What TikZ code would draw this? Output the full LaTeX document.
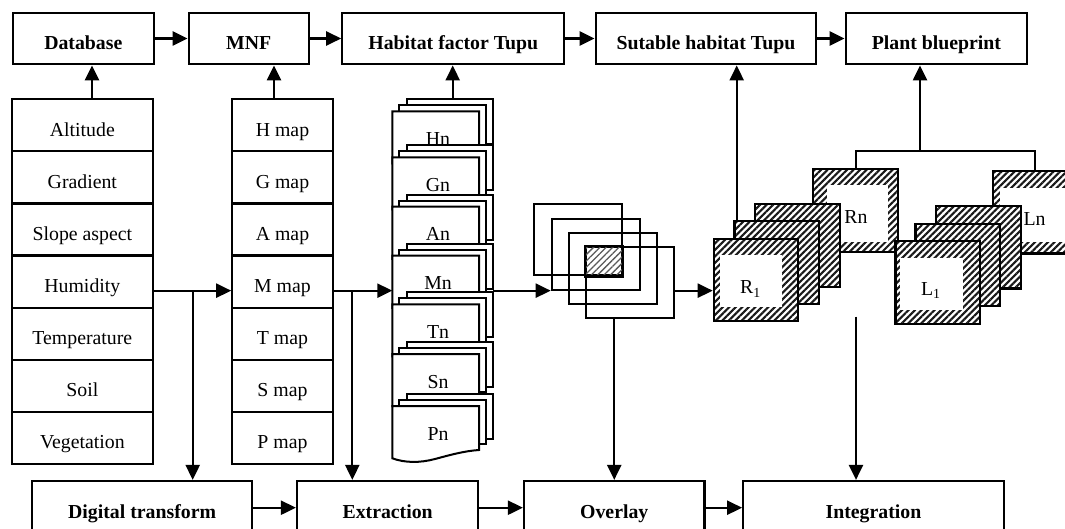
\documentclass[tikz,border=0pt]{standalone}
\usepackage{fontspec}
\setmainfont{Liberation Serif}
\usetikzlibrary{arrows.meta,patterns.meta}
\newcommand\fsz{\fontsize{19.8pt}{23pt}\selectfont}
\newcommand\mdoc[3]{%
  \draw[sheetln] (406.7,#1-12) rectangle (493.3,#1+33);
  \draw[sheetln] (399.3,#1-6) rectangle (486,#1+38);
  \draw[sheetln] (392.3,#1) -- (479,#1) -- (479,#1+44)
     .. controls (464,#1+45) and (450,#1+49) .. (435,#1+53)
     .. controls (420,#1+57) and (405,#1+57) .. (392.3,#1+52.3) -- cycle;
  \node[lbl] (#2) at (438,#1+34) {#3};
}
\begin{document}
\begin{tikzpicture}[x=1pt,y=-1pt,
  lw/.style={line width=2.2pt},
  box/.style={draw,line width=2.2pt,inner sep=0pt,text height=22pt,text depth=0pt,font=\fsz\bfseries},
  cell/.style={draw,line width=2.2pt,inner sep=0pt,minimum height=52.1pt,text height=22pt,text depth=0pt,font=\fsz},
  arr/.style={line width=2.3pt,-{Triangle[length=15pt,width=14pt]}},
  sheetln/.style={line width=2pt,fill=white},
  hsheet/.style={draw,line width=2.2pt,inner sep=0pt,minimum width=84.5pt,minimum height=82.5pt,anchor=north west,
     pattern={Lines[angle=45,distance=4.6pt,line width=2.1pt]},pattern color=black!90,preaction={fill=white}},
  sq/.style={draw,line width=2.2pt,inner sep=0pt,minimum width=88pt,minimum height=71pt,anchor=north west},
  lbl/.style={anchor=base,font=\fsz}]
\clip (0,0) rectangle (1065,529);
\fill[white] (0,0) rectangle (1065,529);

% top row
\node[box,minimum width=141.3pt,minimum height=51.6pt] (db) at (83.35,38.5) {Database};
\node[box,minimum width=120pt,minimum height=51.6pt] (mnf) at (248.7,38.5) {MNF};
\node[box,minimum width=222pt,minimum height=51.6pt] (hft) at (453.3,38.5) {Habitat factor Tupu};
\node[box,minimum width=220.5pt,minimum height=51.6pt] (sht) at (705.95,38.5) {Sutable habitat Tupu};
\node[box,minimum width=181.4pt,minimum height=51.6pt] (pb) at (936.4,38.5) {Plant blueprint};

% left column
\node[cell,minimum width=140.7pt] (alt) at (82.35,125.35) {Altitude};
\node[cell,minimum width=140.7pt] (grad) at (82.35,177.45) {Gradient};
\node[cell,minimum width=140.7pt] (slope) at (82.35,229.55) {Slope aspect};
\node[cell,minimum width=140.7pt] (hum) at (82.35,281.65) {Humidity};
\node[cell,minimum width=140.7pt] (temp) at (82.35,333.75) {Temperature};
\node[cell,minimum width=140.7pt] (soil) at (82.35,385.85) {Soil};
\node[cell,minimum width=140.7pt] (veg) at (82.35,437.95) {Vegetation};

% map column
\node[cell,minimum width=100.4pt] (hmap) at (282.5,125.35) {H map};
\node[cell,minimum width=100.4pt] (gmap) at (282.5,177.45) {G map};
\node[cell,minimum width=100.4pt] (amap) at (282.5,229.55) {A map};
\node[cell,minimum width=100.4pt] (mmap) at (282.5,281.65) {M map};
\node[cell,minimum width=100.4pt] (tmap) at (282.5,333.75) {T map};
\node[cell,minimum width=100.4pt] (smap) at (282.5,385.85) {S map};
\node[cell,minimum width=100.4pt] (pmap) at (282.5,437.95) {P map};

% bottom row
\node[box,minimum width=220.3pt,minimum height=53.4pt] (dt) at (142.15,507.7) {Digital transform};
\node[box,minimum width=181.3pt,minimum height=53.4pt] (ex) at (387.65,507.7) {Extraction};
\node[box,minimum width=180.5pt,minimum height=53.4pt] (ov) at (614.25,507.7) {Overlay};
\node[box,minimum width=260.5pt,minimum height=53.4pt] (ig) at (873.45,507.7) {Integration};

% document stacks
\mdoc{111.3}{hn}{Hn}
\mdoc{157.3}{gn}{Gn}
\mdoc{206.7}{an}{An}
\mdoc{255.7}{mn}{Mn}
\mdoc{304.3}{tn}{Tn}
\mdoc{354}{sn}{Sn}
\mdoc{406}{pn}{Pn}

% overlay squares
\node[sq] (sq1) at (532.7,203.3) {};
\node[sq] (sq2) at (550.7,217.7) {};
\node[sq] (sq3) at (567.7,231.7) {};
\node[sq] (sq4) at (585,246) {};
\fill[pattern={Lines[angle=45,distance=4.5pt,line width=1.3pt]},pattern color=black!65] (sq4.north west) rectangle (sq1.south east);
\draw[line width=2.2pt] (sq4.north west) rectangle (sq1.south east);

% R group
\node[hsheet] (rn) at (812.3,168.3) {};
\fill[white] (826.7,185) rectangle (888.3,241.7);
\node[lbl] (rnt) at (856,223.3) {Rn};
\node[hsheet] (r3) at (754,203.3) {};
\node[hsheet] (r2) at (733.3,220) {};
\node[hsheet] (r1) at (712.7,237.7) {};
\fill[white] (720,255) rectangle (781.7,306.7);
\node[lbl] (r1t) at (750.5,294) {R\textsubscript{1}};

% L group
\node[hsheet] (ln) at (991.7,170) {};
\fill[white] (1000,188) rectangle (1070,242);
\node[lbl] (lnt) at (1034.5,225.7) {Ln};
\node[hsheet] (l3) at (935,205) {};
\node[hsheet] (l2) at (914.3,222.7) {};
\node[hsheet] (l1) at (894.3,240) {};
\fill[white] (900,258.3) rectangle (963,310);
\node[lbl] (l1t) at (930.8,295) {L\textsubscript{1}};

% connectors: top row
\draw[arr] (db) -- (mnf);
\draw[arr] (mnf) -- (hft);
\draw[arr] (hft) -- (sht);
\draw[arr] (sht) -- (pb);
% up arrows
\draw[arr] ([xshift=9.65pt]alt.north) -- ([xshift=9.65pt]alt.north |- db.south);
\draw[arr] ([xshift=-8.5pt]hmap.north) -- ([xshift=-8.5pt]hmap.north |- mnf.south);
\coordinate (hnTop) at (452.7,99.3);
\draw[arr] (hnTop) -- (hnTop |- hft.south);
\draw[arr] ([xshift=3.4pt]r2.north west) -- ([xshift=3.4pt]r2.north west |- sht.south);
\coordinate (brk) at (920,150.7);
\draw[lw] (rn.north) |- (brk) -| (ln.north);
\draw[arr] (brk) -- (brk |- pb.south);

% middle flow
\draw[arr] ([yshift=-9pt]hum.east) -- ([yshift=-9pt]hum.east -| mmap.west);
\coordinate (b1) at (192.7,290.65);
\draw[arr] (b1) -- (b1 |- dt.north);
\coordinate (mnL) at (392.3,290.65);
\draw[arr] ([yshift=-9pt]mmap.east) -- (mnL);
\coordinate (b2) at (352.3,290.65);
\draw[arr] (b2) -- (b2 |- ex.north);
\coordinate (mnR) at (493.3,290.65);
\draw[arr] (mnR) -- (mnR -| sq2.west);
\draw[arr] (mnR -| sq4.east) -- (mnR -| r1.west);
\draw[arr] (sq4.south -| ov.north) -- (ov.north);
\coordinate (igTop) at (856,316.7);
\draw[arr] (igTop) -- (igTop |- ig.north);

% bottom row
\draw[arr] (dt) -- (ex);
\draw[arr] (ex) -- (ov);
\draw[arr] (ov) -- (ig);
\end{tikzpicture}
\end{document}
